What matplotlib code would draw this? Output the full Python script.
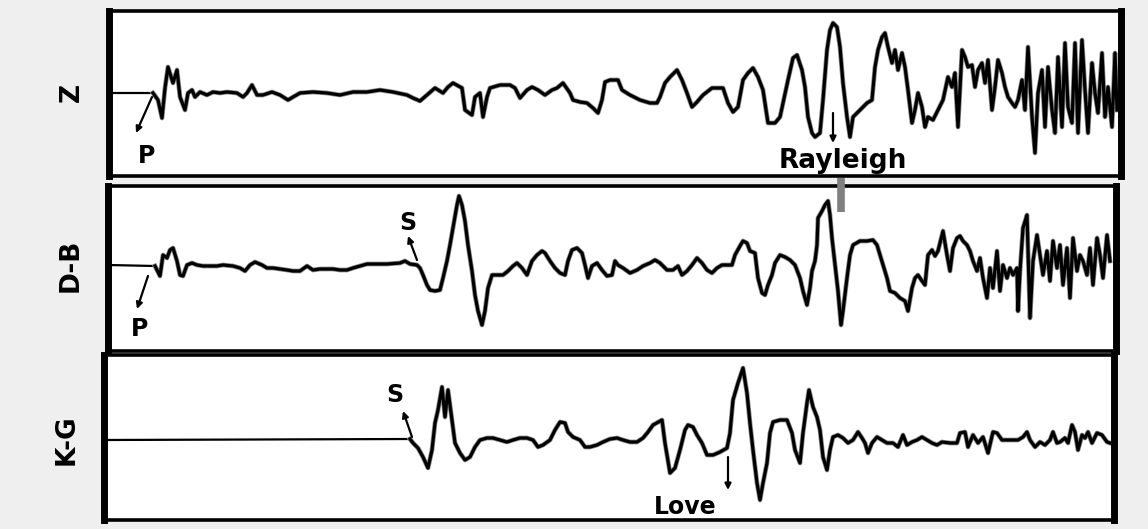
import matplotlib
matplotlib.use("Agg")
import matplotlib.pyplot as plt

# traces: time (sample index across the record) and amplitude relative to baseline
z_t = [153, 158, 162, 165, 168, 173, 177, 180, 185, 188, 192, 195, 200, 207, 213, 220, 227, 237,
       243, 247, 252, 257, 263, 272, 280, 288, 293, 300, 313, 327, 340, 353, 367, 380, 393, 407,
       413, 420, 427, 435, 443, 448, 453, 462, 465, 472, 475, 480, 483, 487, 490, 500, 510, 515,
       520, 527, 532, 538, 545, 552, 557, 563, 570, 573, 580, 587, 593, 598, 602, 605, 610, 618,
       622, 630, 640, 650, 657, 660, 665, 670, 677, 682, 687, 692, 697, 703, 712, 723, 728, 733,
       738, 743, 748, 753, 758, 763, 768, 775, 780, 783, 788, 793, 797, 802, 805, 808, 812, 815,
       820, 823, 827, 830, 833, 837, 840, 843, 847, 850, 853, 860, 867, 872, 875, 878, 882, 885,
       888, 892, 895, 898, 902, 905, 908, 912, 915, 918, 922, 925, 928, 933, 938, 943, 948, 952,
       955, 958, 962, 965, 968, 972, 975, 978, 982, 985, 988, 992, 995, 998, 1002, 1005, 1008,
       1012, 1015, 1018, 1022, 1025, 1028, 1032, 1035, 1038, 1042, 1045, 1048, 1052, 1055, 1058,
       1062, 1065, 1068, 1072, 1075, 1078, 1082, 1085, 1088, 1092, 1095, 1098, 1102, 1105, 1108,
       1112, 1115, 1117]
z_amp = [0, -7, -25, 5, 26, 10, 23, -4, -17, 0, 3, -4, 1, -2, 1, 0, 1, 0,
         -4, 0, 8, -2, -2, 1, -2, -7, -4, 0, 1, 0, -2, 1, 1, 3, 1, -2,
         -5, -8, -2, 5, 0, 6, 10, 5, -17, -22, -4, 0, -24, -4, 5, 8, 8, 5,
         -5, 3, 6, 3, -2, 3, 5, 10, 0, -7, -9, -10, -15, -20, -7, 11, 13, 13,
         3, -2, -7, -10, -10, -4, 10, 16, 23, 13, 0, -14, -9, -2, 5, 5, -10, -19,
         -14, 13, 20, 25, 16, 3, -30, -30, -24, -10, 13, 35, 38, 23, 6, -24, -40, -44,
         -40, -7, 43, 63, 70, 66, 46, 10, -24, -44, -24, -17, -10, -7, 26, 43, 56, 60,
         46, 30, 43, 23, 40, 26, 3, -30, -17, 0, -14, -34, -24, -27, -17, -7, 16, 6,
         20, -34, 43, 36, 26, 28, 6, 23, 30, 10, 33, -17, 6, 33, 20, 6, -4,
         -10, -14, -7, 13, -17, 46, -24, -60, 0, 23, -34, 26, -17, -40, 36,
         -34, 50, -14, -30, 50, -40, 53, 3, -40, 30, 0, -20, 40, -24, 6,
         -34, 40, -17]

db_t = [155, 160, 163, 167, 170, 173, 177, 180, 183, 187, 192, 197, 203, 210, 217, 223, 233, 240,
        245, 250, 255, 262, 267, 273, 280, 287, 293, 300, 307, 313, 320, 327, 333, 340, 347, 353,
        360, 367, 373, 387, 400, 405, 410, 417, 420, 423, 427, 430, 435, 440, 443, 447, 450, 453,
        457, 459, 462, 465, 468, 472, 475, 478, 482, 485, 488, 492, 497, 503, 508, 513, 517, 522,
        527, 532, 537, 542, 545, 550, 555, 560, 565, 568, 572, 577, 582, 585, 588, 592, 597, 602,
        607, 612, 615, 618, 623, 630, 637, 643, 650, 655, 660, 667, 673, 678, 682, 687, 692, 697,
        702, 707, 712, 717, 722, 727, 732, 735, 740, 743, 747, 750, 755, 758, 762, 765, 768, 772,
        775, 780, 785, 790, 795, 800, 803, 807, 810, 812, 815, 817, 818, 822, 825, 828, 830, 832,
        835, 838, 841, 843, 847, 850, 853, 860, 867, 873, 877, 880, 883, 887, 890, 895, 900, 905,
        908, 912, 915, 918, 922, 925, 928, 932, 935, 938, 943, 947, 950, 953, 957, 960, 963, 967,
        970, 973, 977, 980, 983, 987, 990, 993, 997, 1000, 1003, 1007, 1010, 1013, 1017, 1018,
        1020, 1023, 1027, 1030, 1033, 1037, 1040, 1043, 1047, 1050, 1053, 1057, 1060, 1063, 1067,
        1070, 1073, 1077, 1080, 1083, 1087, 1090, 1093, 1097, 1100, 1103, 1107, 1110]
db_amp = [-1, -11, 10, 7, 15, 17, 4, -10, -11, 0, 2, 0, -1, -1, -1, 0, -1, -3,
          -6, 0, 3, 0, -3, -3, -4, -5, -6, -6, -1, -5, -4, -4, -4, -5, -5, -3,
          -1, 1, 1, 1, 2, 4, 1, 0, -3, -10, -20, -25, -26, -25, -13, 4, 20, 37,
          60, 69, 60, 44, 20, -6, -30, -46, -60, -46, -23, -10, -10, -10, -6, -1, 2, -3,
          -10, 4, 10, 14, 12, 4, -3, -8, -10, 4, 15, 17, 12, 0, -13, -1, 2, -5,
          -11, -10, 4, 0, -3, -8, -5, -1, 2, 5, 2, -5, -5, -1, -10, -6, 0, 7,
          2, -5, -8, -3, 0, 0, 0, 10, 19, 24, 22, 14, 12, -13, -28, -30, -20, -10,
          2, 10, 8, 5, 0, -13, -26, -40, -23, -6, 4, 20, 47, 54, 60, 64, 50, 27,
          0, -26, -60, -46, -13, 10, 20, 24, 24, 25, 20, 10, 0, -13, -26, -28, -33, -36,
          -46, -23, -13, -10, -16, -20, 10, 15, 9, 14, 34, 10, -6, 17, 27, 29, 24, 20,
          14, 4, -6, 7, -13, -33, -3, -23, 14, -26, 0, -13, -3, -10, -3, -46,
          -6, 37, 50, -53, 4, 30, 10, -10, 14, -16, 24, -3, 20, -20, 17,
          -33, 27, -6, 10, 4, -10, 17, -20, 27, 10, -13, 30, 4]

kg_t = [410, 413, 418, 423, 428, 432, 435, 438, 442, 445, 448, 452, 455, 460, 465, 470, 475, 480,
        487, 493, 500, 507, 513, 520, 527, 533, 538, 543, 550, 555, 560, 565, 568, 573, 580, 585,
        590, 597, 603, 610, 617, 623, 630, 637, 643, 648, 653, 662, 665, 670, 675, 680, 685, 688,
        693, 697, 702, 707, 713, 720, 727, 730, 733, 738, 743, 747, 750, 753, 757, 760, 763, 767,
        770, 773, 780, 787, 792, 795, 800, 803, 807, 809, 813, 817, 820, 823, 827, 830, 833, 838,
        843, 848, 853, 858, 862, 865, 868, 872, 877, 882, 887, 893, 898, 903, 907, 912, 917, 922,
        927, 932, 937, 942, 950, 957, 960, 965, 968, 973, 978, 983, 988, 993, 997, 1002, 1010,
        1018, 1023, 1027, 1030, 1035, 1040, 1045, 1050, 1053, 1057, 1060, 1065, 1068, 1072, 1075,
        1078, 1082, 1085, 1088, 1092, 1097, 1102, 1107, 1110]
kg_amp = [1, -3, -8, -17, -28, -10, 17, 30, 53, 23, 50, 20, -3, -13, -20, -17, -7, 0,
          2, 2, 0, -2, 0, 2, 2, 0, -7, -5, 0, 10, 18, 17, 8, 3, 0, -7,
          -7, -5, -2, 1, 2, 0, -2, -2, 2, 8, 15, 20, -3, -33, -28, -10, 10, 15,
          13, 5, -3, -15, -15, -12, -8, 7, 40, 57, 72, 47, 17, -10, -43, -60, -43, -23,
          7, 18, 20, 20, 7, -10, -23, 7, 37, 50, 33, 23, 10, -17, -30, -10, 3, 5,
          2, -3, 0, 8, 2, -3, -13, -3, 3, 0, -3, -3, -7, 5, -5, -2, 0, 3,
          0, -3, -5, -2, -3, -3, 7, 8, -7, 5, -3, 3, -13, 8, 7, 0, 0,
          0, 3, 8, 0, -7, -2, -5, 0, 8, -3, -2, 2, -3, 15, 8,
          -10, 5, 2, 8, -3, 7, 5, -2, -3]

channels = ["Z", "D-B", "K-G"]

# panel frames in pixel units: (left, right, top, bottom, baseline)
frames = [(109, 1121, 11.5, 175.5, 93),
          (108, 1116, 186, 351, 265),
          (104, 1114, 355, 520, 440)]

# (label, text time, text baseline amp, arrow tail time, tail amp, arrow head time, head amp)
phases = [
    [("P", 147, -70, 152, -4, 136, -40)],
    [("P", 140, -71, 148, -11, 137, -44), ("S", 408, 35, 417, 5, 408, 29)],
    [("S", 395, 38, 412, 3, 403, 29), ("Love", 685, -74, 728, -17, 728, -50)],
]

W, H = 1148, 529
fig = plt.figure(figsize=(W / 100, H / 100), dpi=100, facecolor="#efefef")

traces = [(z_t, z_amp), (db_t, db_amp), (kg_t, kg_amp)]
axes = []
for (left, right, top, bottom, base), (t, amp), name, marks in zip(frames, traces, channels, phases):
    ax = fig.add_axes([left / W, 1 - bottom / H, (right - left) / W, (bottom - top) / H])
    ax.set_facecolor("white")
    ax.set_xlim(left, right)
    ax.set_ylim(base - bottom, base - top)
    ax.set_xticks([])
    ax.set_yticks([])
    for side, sp in ax.spines.items():
        sp.set_color("black")
        sp.set_linewidth(5.0 if side in ("left", "right") else 2.6)

    # flat pre-event baseline, then the waveform
    ax.plot([left, t[0]], [0, amp[0]], color="black", lw=1.6)
    ax.plot(t, amp, color="#8a8a8a", lw=3.4, solid_joinstyle="round")
    ax.plot(t, amp, color="black", lw=2.3, solid_joinstyle="round")

    ax.annotate(name, xy=(0, 0), xycoords=("axes fraction", "data"),
                xytext=(-37, 0), textcoords="offset pixels",
                rotation=90, ha="center", va="center",
                fontsize=19, fontweight="bold", family="DejaVu Sans")

    for lab, tx, ty, x0, y0, x1, y1 in marks:
        ax.annotate("", xy=(x1, y1), xytext=(x0, y0),
                    arrowprops=dict(arrowstyle="-|>", color="black", lw=1.6,
                                    mutation_scale=9, shrinkA=0, shrinkB=0))
        ax.text(tx, ty, lab, ha="center", va="baseline", fontsize=17,
                fontweight="bold", family="DejaVu Sans")
    axes.append(ax)

# Rayleigh marker on the vertical component
axes[0].annotate("", xy=(833, -50), xytext=(833, -20),
                 arrowprops=dict(arrowstyle="-|>", color="black", lw=1.6,
                                 mutation_scale=9, shrinkA=0, shrinkB=0))
axes[0].text(843, -75, "Rayleigh", ha="center", va="baseline", fontsize=19,
             fontweight="bold", family="DejaVu Sans")
axes[1].vlines(841, 53, 87, color="#808080", lw=5.5, clip_on=False, zorder=5)

fig.savefig("out.png", dpi=100, facecolor=fig.get_facecolor())
